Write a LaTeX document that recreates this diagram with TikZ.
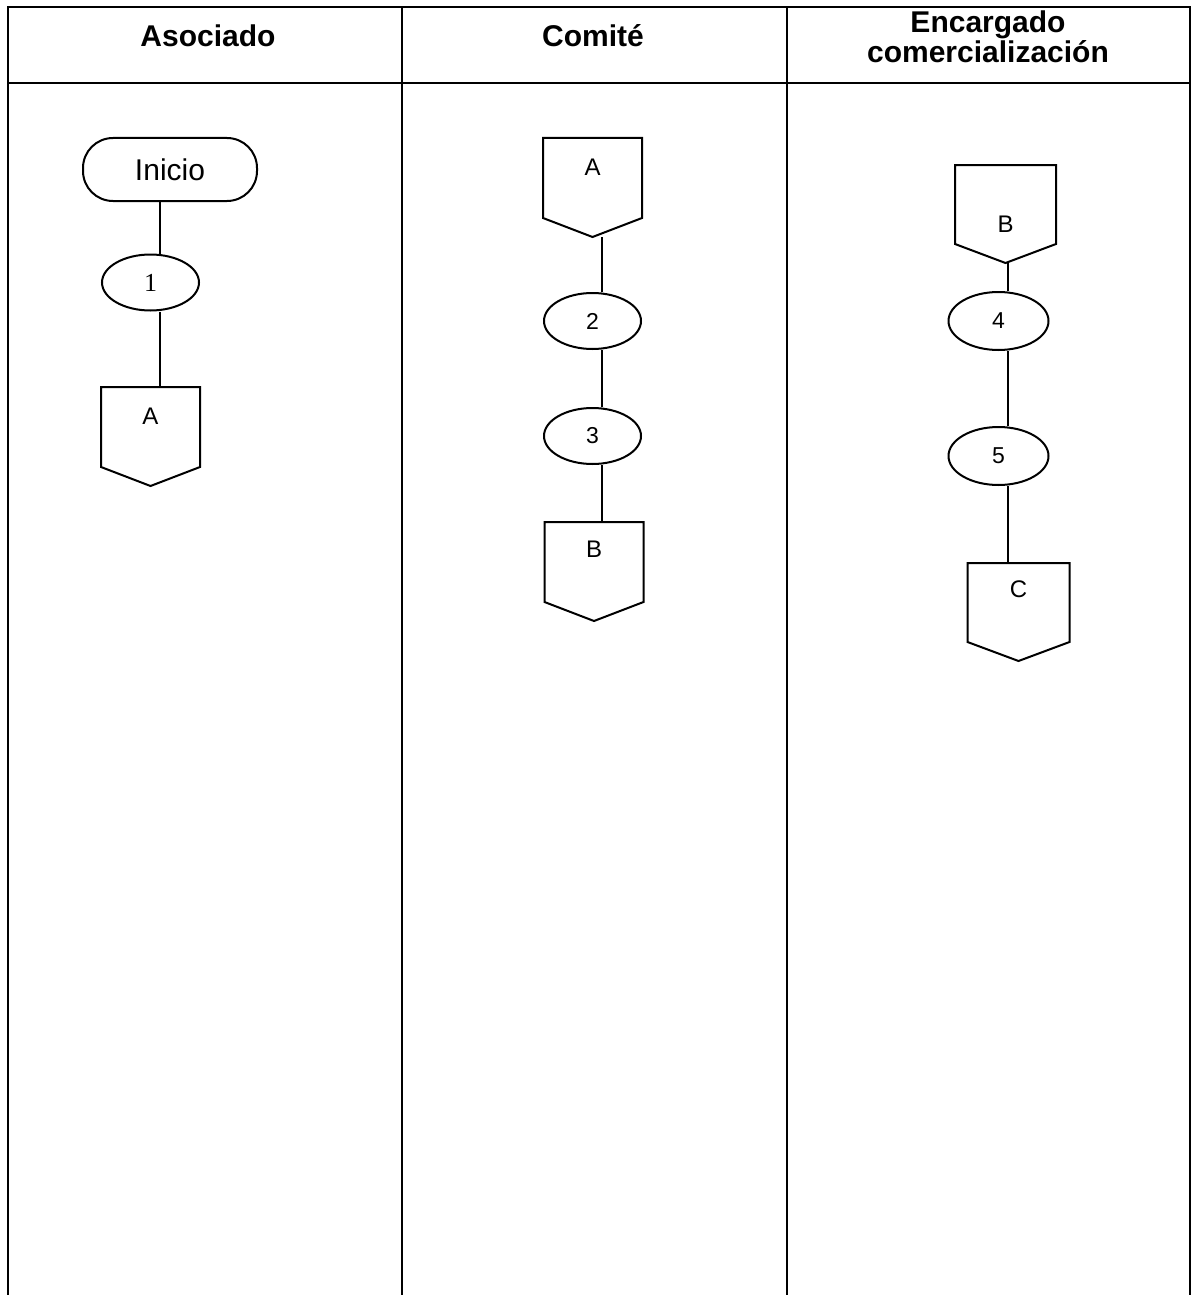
\documentclass[tikz,border=0pt]{standalone}
\usepackage{fontspec}
\setmainfont{Liberation Sans}
\newfontfamily\serifnum{Liberation Serif}
\usetikzlibrary{calc, shapes.geometric}

\begin{document}
\begin{tikzpicture}[x=0.5pt, y=-0.5pt, line width=1pt,
    grid/.style={line width=1.35pt},
    head/.style={anchor=base, align=center, font=\fontsize{15}{14}\selectfont\bfseries},
    start/.style={draw, rounded corners=15pt, minimum width=87pt, minimum height=31.5pt,
                  inner sep=0pt, font=\fontsize{15}{18}\selectfont},
    act/.style={draw, ellipse, minimum width=48.5pt, minimum height=28pt, inner sep=0pt,
                font=\fontsize{11.5}{14}\selectfont},
    conn/.style={anchor=north, minimum width=48.5pt, inner sep=0pt, text height=18pt,
                 text depth=30.5pt, font=\fontsize{12}{14}\selectfont}]
    \useasboundingbox (0,0) rectangle (1195,1295);

    % table
    \draw[grid] (8,1295) -- (8,7) -- (1190,7) -- (1190,1295);
    \draw[grid] (8,83) -- (1190,83);
    \draw[grid] (402,7) -- (402,1295);
    \draw[grid] (787,7) -- (787,1295);
    \node[head] (hasoc) at (208,47) {Asociado};
    \node[head] (hcom) at (593,47) {Comité};
    \node[head] (henc) at (988,63) {Encargado\\comercialización};

    % Asociado
    \node[start] (ini) at (170,169.5) {Inicio};
    \node[act, font=\fontsize{13}{15}\serifnum] (a1) at (150.5,282.5) {1};
    \node[conn] (cA1) at (150.5,387) {A};

    % Comite
    \node[conn] (cA2) at (592.5,138) {A};
    \node[act] (a2) at (592.5,321) {2};
    \node[act] (a3) at (592.5,436) {3};
    \node[conn, text height=17pt, text depth=31.5pt] (cB2) at (594,522) {B};

    % Encargado comercializacion
    \node[conn, minimum width=49.5pt, text height=33pt, text depth=15pt] (cB3) at (1005.5,165) {B};
    \node[act, minimum width=50pt, minimum height=29pt] (a4) at (998.5,321) {4};
    \node[act, minimum width=50pt, minimum height=29pt] (a5) at (998.5,456) {5};
    \node[conn, minimum width=50pt, text height=16.5pt, text depth=31.5pt] (cC3) at (1018.5,563) {C};

    % off-page outlines
    \foreach \n in {cA1, cA2, cB2, cB3, cC3}
        \draw (\n.north west) -- (\n.north east) -- ($(\n.south east)+(0,-19)$)
              -- (\n.south) -- ($(\n.south west)+(0,-19)$) -- cycle;

    % connectors
    \coordinate (lane1) at (160,0);
    \coordinate (lane2) at (602,0);
    \coordinate (lane3) at (1008,0);
    \foreach \u/\v/\l in {ini/a1/lane1, a1/cA1/lane1, cA2/a2/lane2, a2/a3/lane2,
                          a3/cB2/lane2, cB3/a4/lane3, a4/a5/lane3, a5/cC3/lane3}
        \draw (\u.south -| \l) -- (\v.north -| \l);
\end{tikzpicture}
\end{document}
